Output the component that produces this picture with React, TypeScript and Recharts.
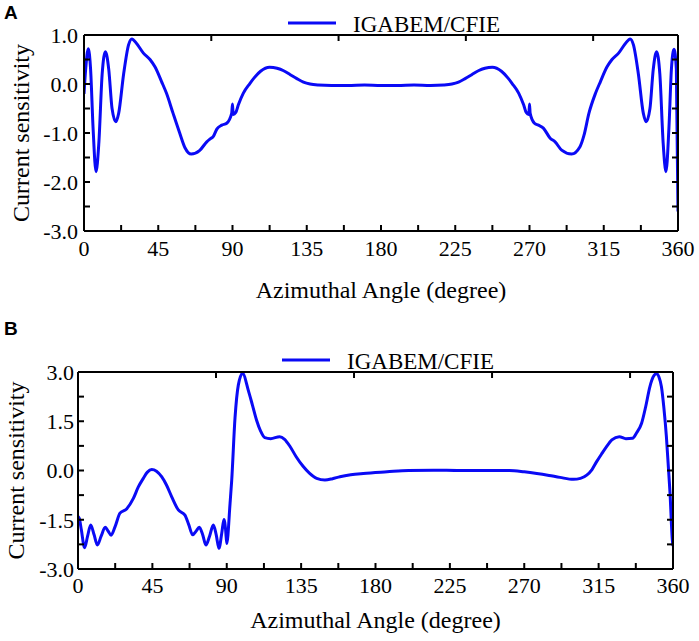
import { LineChart, Line, XAxis, YAxis, Legend } from "recharts";

// panel A: current sensitivity vs azimuthal angle
const anglesA = [
  0, 1, 2.6, 4, 5.5, 7.3, 9, 11, 13, 15, 17, 19.3, 21, 24, 27, 29, 32, 36, 40, 43,
  47, 50, 54, 58, 61.2, 65, 70, 74.4, 76.5, 78.4, 80.5, 83.5, 86.5, 89.5, 90, 90.4,
  92, 93.5, 96.5, 100.5, 103, 107, 112.5, 117, 121, 125, 129, 133, 137, 142, 150,
  160, 170, 180, 190, 200, 210, 218, 223, 227, 231, 235, 239, 243, 247.5, 253, 257,
  259.5, 263.5, 266.5, 268, 269.6, 270, 270.4, 273, 275.4, 278.4, 282.4, 285.5,
  289.5, 295.5, 300.6, 303, 306, 310, 313, 317, 320, 324, 328, 331, 333, 336, 339,
  340.7, 343, 345, 347, 349, 351, 352.7, 354.5, 356, 357.6, 359, 360,
];
const sensitivityA = [
  -0.2, 0.3, 0.72, 0.3, -0.9, -1.79, -1.2, 0.2, 0.66, 0.3, -0.5, -0.77, -0.6, 0.2, 0.8, 0.92, 0.82, 0.63, 0.5, 0.35,
  0.05, -0.19, -0.6, -1.0, -1.3, -1.43, -1.36, -1.18, -1.12, -1.07, -0.92, -0.84, -0.8, -0.6, -0.41, -0.62,
  -0.58, -0.43, -0.19, 0.01, 0.12, 0.26, 0.34, 0.32, 0.27, 0.19, 0.11, 0.04, 0.0, -0.02, -0.03,
  -0.03, -0.02, -0.03, -0.03, -0.02, -0.03, -0.02, 0.0, 0.04, 0.11, 0.19, 0.27, 0.32, 0.34, 0.26, 0.12,
  0.01, -0.19, -0.43, -0.58, -0.62, -0.41, -0.6, -0.8, -0.84, -0.9, -1.1, -1.18,
  -1.35, -1.43, -1.28, -1.05, -0.6, -0.19, 0.05, 0.35, 0.5, 0.63, 0.82, 0.92, 0.8, 0.2, -0.6,
  -0.77, -0.5, 0.3, 0.66, 0.2, -1.2, -1.79, -0.9, 0.3, 0.71, 0.3, -2.6,
];

// panel B
const anglesB = [
  0, 0.8, 2, 4, 5.8, 7.7, 9.7, 11.7, 14, 16.5, 18.3, 20, 22.5, 25.4, 29.4, 33.5, 36.5,
  39.5, 42, 44.6, 47.5, 50.6, 53.6, 56.7, 60.7, 64.7, 67, 69.4, 71.4, 73.4, 75.4, 77.4,
  79.6, 81.9, 83.6, 85.3, 87, 88.3, 89.3, 90, 92, 93, 95, 97, 99.6, 103, 105.5, 108,
  110.5, 113, 116.6, 122, 125, 128.3, 132, 136.3, 140, 144.4, 149.4, 154, 158.5, 165,
  172.6, 187, 200, 215, 231, 245, 261, 270, 277.6, 285, 291.6, 299.7, 304, 307.8, 311,
  313.8, 317, 319.8, 323, 327.5, 331.5, 335.5, 338, 341, 343.5, 346, 348, 350, 351.5,
  353, 354.5, 356, 357.2, 358.2, 359.6, 360,
];
const sensitivityB = [
  -1.4, -1.46, -1.8, -2.35, -2.0, -1.66, -1.95, -2.27, -2.0, -1.73, -1.85, -1.97, -1.7, -1.3, -1.17, -0.85, -0.5,
  -0.24, -0.05, 0.03, -0.02, -0.19, -0.45, -0.8, -1.2, -1.36, -1.65, -1.96, -1.85, -1.73, -1.95, -2.27,
  -2.0, -1.66, -1.95, -2.37, -1.9, -1.49, -1.8, -2.22, -1.0, -0.3, 1.6, 2.6, 2.96, 2.45, 2.0, 1.54,
  1.2, 1.0, 0.97, 1.03, 0.95, 0.73, 0.42, 0.12, -0.08, -0.24, -0.29, -0.25, -0.19, -0.13,
  -0.09, -0.04, 0.0, 0.01, 0.0, 0.0, 0.0, -0.04, -0.09, -0.15, -0.21, -0.27, -0.24, -0.14, 0.03,
  0.27, 0.52, 0.73, 0.93, 1.03, 0.97, 0.98, 1.15, 1.44, 1.95, 2.55, 2.85, 2.95, 2.85,
  2.55, 1.9, 1.03, 0.1, -0.69, -2.12, -2.3,
];

const angleTicks = [0, 22.5, 45, 67.5, 90, 112.5, 135, 157.5, 180, 202.5, 225, 247.5, 270, 292.5, 315, 337.5, 360];
const ticksA = [-3, -2.5, -2, -1.5, -1, -0.5, 0, 0.5, 1];
const ticksB = [-3, -2.25, -1.5, -0.75, 0, 0.75, 1.5, 2.25, 3];

const seriesName = "IGABEM/CFIE";
const BLUE = "#0a0af5";
const SERIF = "Liberation Serif";
const SANS = "Liberation Sans";

const tickStyle = { fill: "#000", fontSize: 22, fontFamily: SERIF, style: { fontFamily: SERIF } };
const axisLine = { stroke: "#000", strokeWidth: 2 };
const tickLine = { stroke: "#000", strokeWidth: 2 };

function YTitle({ cx, cy }: { cx: number; cy: number }) {
  return (
    <text
      x={cx}
      y={cy}
      transform={`rotate(-90 ${cx} ${cy})`}
      textAnchor="middle"
      style={{ fontFamily: SERIF, fontSize: 24 }}
      fill="#000"
    >
      Current sensitivity
    </text>
  );
}

function LegendBox(props: any) {
  const item = props.payload?.[0];
  return (
    <svg width={240} height={30} style={{ display: "block" }}>
      <line x1={0} x2={48} y1={15} y2={15} stroke={item?.color ?? BLUE} strokeWidth={3} />
      <text x={65} y={24} style={{ fontFamily: SERIF, fontSize: 23 }} fill="#000">
        {item?.value ?? seriesName}
      </text>
    </svg>
  );
}

interface PanelProps {
  angles: number[];
  values: number[];
  yTicks: number[];
  yFormat: (v: number) => string;
  height: number;
  // plot box edges inside the chart
  box: { top: number; right: number; bottom: number; left: number };
  legendLeft: number;
  legendTop: number;
  xTickMargin: number;
  yTickMargin: number;
  titleOffset: number;
  yTitleX: number;
}

function Panel(p: PanelProps) {
  const data = p.angles.map((a, i) => ({ angle: a, value: p.values[i] }));
  const yDomain = [p.yTicks[0], p.yTicks[p.yTicks.length - 1]];
  const yCenter = (p.box.top + p.box.bottom) / 2;
  const xFormat = (v: number) => (v % 45 === 0 ? String(v) : "");
  // every axis is 1px thick, so the margins are one pixel short of the plot box
  const margin = {
    top: p.box.top - 1,
    left: p.box.left - 1,
    right: 699 - p.box.right - 1,
    bottom: p.height - p.box.bottom - 1,
  };
  return (
    <LineChart width={699} height={p.height} data={data} margin={margin} style={{ fontFamily: SERIF }}>
      <XAxis
        dataKey="angle"
        type="number"
        domain={[0, 360]}
        ticks={angleTicks}
        tickFormatter={xFormat}
        interval={0}
        height={1}
        tickSize={-6}
        tickMargin={p.xTickMargin}
        axisLine={axisLine}
        tickLine={tickLine}
        tick={tickStyle}
        allowDataOverflow
        label={{
          value: "Azimuthal Angle (degree)",
          position: "bottom",
          offset: p.titleOffset,
          style: { fill: "#000", fontSize: 24, fontFamily: SERIF },
        }}
      />
      <XAxis
        xAxisId="top"
        orientation="top"
        type="number"
        domain={[0, 360]}
        ticks={angleTicks}
        tickFormatter={() => ""}
        interval={0}
        height={1}
        tickSize={-6}
        axisLine={axisLine}
        tickLine={tickLine}
        allowDataOverflow
      />
      <YAxis
        type="number"
        domain={yDomain}
        ticks={p.yTicks}
        tickFormatter={p.yFormat}
        interval={0}
        width={1}
        tickSize={-6}
        tickMargin={p.yTickMargin}
        axisLine={axisLine}
        tickLine={tickLine}
        tick={tickStyle}
        allowDataOverflow
        label={<YTitle cx={p.yTitleX} cy={yCenter} />}
      />
      <YAxis
        yAxisId="right"
        orientation="right"
        type="number"
        domain={yDomain}
        ticks={p.yTicks}
        tickFormatter={() => ""}
        interval={0}
        width={1}
        tickSize={-6}
        axisLine={axisLine}
        tickLine={tickLine}
        allowDataOverflow
      />
      <Legend
        layout="vertical"
        align="center"
        verticalAlign="middle"
        content={LegendBox}
        wrapperStyle={{ left: p.legendLeft, top: p.legendTop, width: 240, height: 30 }}
      />
      <Line
        name={seriesName}
        dataKey="value"
        type="monotone"
        stroke={BLUE}
        strokeWidth={3}
        dot={false}
        isAnimationActive={false}
      />
    </LineChart>
  );
}

const letterStyle = {
  position: "absolute" as const,
  left: 4,
  zIndex: 10,
  fontFamily: SANS,
  fontWeight: 700,
  fontSize: 19,
  lineHeight: "19px",
  color: "#000",
};

export default function App() {
  return (
    <div
      style={{
        position: "absolute",
        left: 0,
        top: 0,
        width: 699,
        height: 641,
        background: "#fff",
        fontFamily: SERIF,
      }}
    >
      <div style={{ position: "absolute", left: 0, top: 0 }}>
        <Panel
          angles={anglesA}
          values={sensitivityA}
          yTicks={ticksA}
          yFormat={(v) => (Number.isInteger(v) ? v.toFixed(1) : "")}
          height={310}
          box={{ top: 35, right: 678, bottom: 231, left: 84 }}
          legendLeft={288}
          legendTop={8}
          xTickMargin={15}
          yTickMargin={12}
          titleOffset={49}
          yTitleX={29}
        />
      </div>
      <div style={{ position: "absolute", left: 0, top: 310 }}>
        <Panel
          angles={anglesB}
          values={sensitivityB}
          yTicks={ticksB}
          yFormat={(v) => (Number.isInteger(v / 1.5) ? v.toFixed(1) : "")}
          height={331}
          box={{ top: 62, right: 673, bottom: 259, left: 78 }}
          legendLeft={282}
          legendTop={35}
          xTickMargin={14}
          yTickMargin={10}
          titleOffset={41}
          yTitleX={24}
        />
      </div>
      <div style={{ ...letterStyle, top: 3 }}>A</div>
      <div style={{ ...letterStyle, top: 319 }}>B</div>
    </div>
  );
}
